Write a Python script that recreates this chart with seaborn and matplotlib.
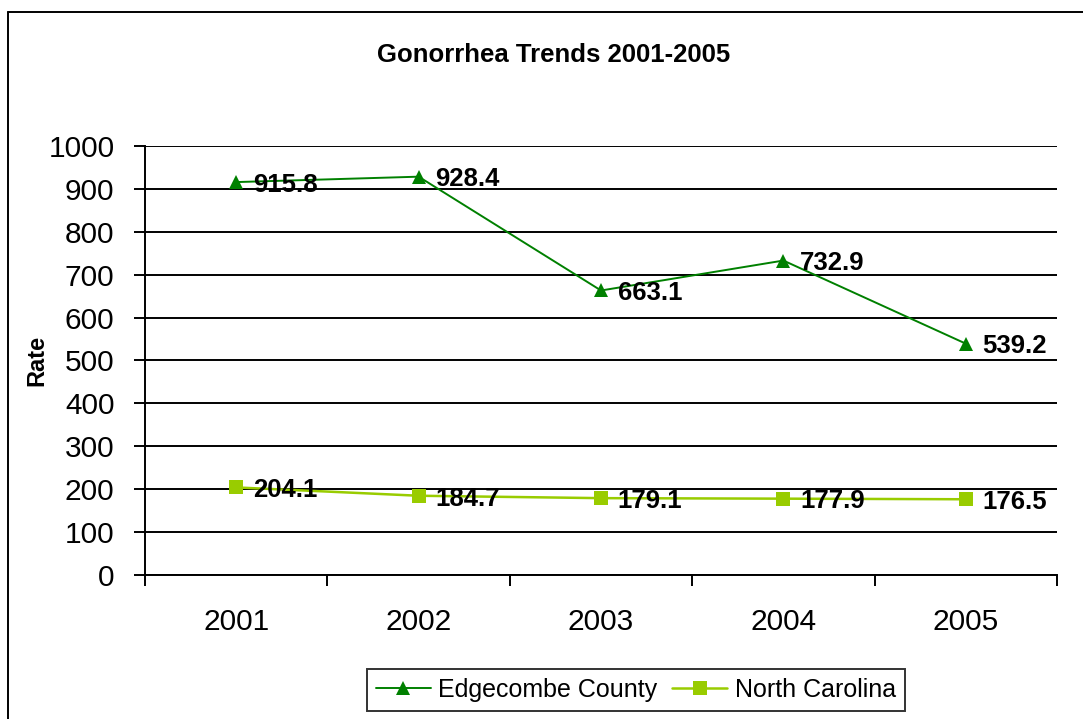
import numpy as np
import pandas as pd
import matplotlib
matplotlib.use("Agg")
import matplotlib.pyplot as plt
from matplotlib.lines import Line2D
import seaborn as sns

# data
years = ["2001", "2002", "2003", "2004", "2005"]
edgecombe = [915.8, 928.4, 663.1, 732.9, 539.2]
north_carolina = [204.1, 184.7, 179.1, 177.9, 176.5]
series_names = ["Edgecombe County", "North Carolina"]

df = pd.DataFrame({
    "pos": list(range(len(years))) * 2,
    "rate": edgecombe + north_carolina,
    "area": [series_names[0]] * len(years) + [series_names[1]] * len(years),
})

sns.set_style("white")
plt.rcParams["font.family"] = ["Liberation Sans", "DejaVu Sans"]
plt.rcParams["text.color"] = "black"
plt.rcParams["xtick.color"] = "black"
plt.rcParams["ytick.color"] = "black"
plt.rcParams["axes.labelcolor"] = "black"

fig = plt.figure(figsize=(10.83, 7.19), dpi=100)
ax = fig.add_axes([0.1339, 0.2003, 0.976 - 0.1339, 0.797 - 0.2003])

palette = {series_names[0]: "#008000", series_names[1]: "#99CC00"}
sns.lineplot(data=df, x="pos", y="rate", hue="area", style="area",
             markers={series_names[0]: "^", series_names[1]: "s"},
             dashes=False, palette=palette, markersize=10,
             markeredgewidth=0, ax=ax, legend=False)
for ln, lw in zip(ax.lines, [1.4, 1.8]):
    ln.set_linewidth(lw)

# data labels
for vals in (edgecombe, north_carolina):
    for i, v in enumerate(vals):
        ax.annotate(f"{v:.1f}", (i, v), xytext=(12, -2), textcoords="offset points",
                    ha="left", va="center", fontsize=18.5, fontweight="bold", color="black")

ax.set_ylim(0, 1000)
ax.set_xlim(-0.5, len(years) - 0.5)
ax.set_yticks(np.arange(0, 1001, 100))
ax.yaxis.grid(True, color="black", linewidth=1.4)
ax.set_axisbelow(True)

ax.set_xticks(np.arange(-0.5, len(years), 1.0))
ax.set_xticklabels([])
ax.set_xticks(range(len(years)), minor=True)
ax.set_xticklabels(years, minor=True)
ax.tick_params(axis="x", which="major", direction="out", length=8, width=1.4, color="black", bottom=True)
ax.tick_params(axis="x", which="minor", length=0, pad=24, labelsize=21.5)
ax.tick_params(axis="y", direction="out", length=8, width=1.4, color="black", left=True,
               labelsize=21.5, pad=14)

for s in ["top", "right"]:
    ax.spines[s].set_visible(False)
for s in ["left", "bottom"]:
    ax.spines[s].set_color("black")
    ax.spines[s].set_linewidth(1.4)

ax.set_xlabel("")
ax.set_ylabel("Rate", fontsize=17, fontweight="bold", labelpad=0)
fig.text(0.511, 0.924, "Gonorrhea Trends 2001-2005", ha="center", va="center",
         fontsize=18.5, fontweight="bold")

handles = [Line2D([], [], color=palette[n], marker=m, markersize=10, markeredgewidth=0,
                  linewidth=lw) for n, m, lw in zip(series_names, ["^", "s"], [1.4, 1.8])]
leg = fig.legend(handles, series_names, loc="upper left",
                 bbox_to_anchor=(367 / 1083, 1 - 669 / 719), frameon=True, fancybox=False,
                 ncol=2, prop={"family": "Liberation Sans", "size": 18},
                 handlelength=2.2, columnspacing=0.6, handletextpad=0.3,
                 borderpad=0.35, borderaxespad=0)
leg.get_frame().set_edgecolor("black")
leg.get_frame().set_linewidth(1.4)

# outer chart border
fig.add_artist(Line2D([8 / 1083, 8 / 1083], [-0.1, 1 - 12 / 719], transform=fig.transFigure,
                      color="black", linewidth=1.4))
fig.add_artist(Line2D([8 / 1083, 1.1], [1 - 12 / 719, 1 - 12 / 719], transform=fig.transFigure,
                      color="black", linewidth=1.4))

fig.savefig("out.png", dpi=100)
